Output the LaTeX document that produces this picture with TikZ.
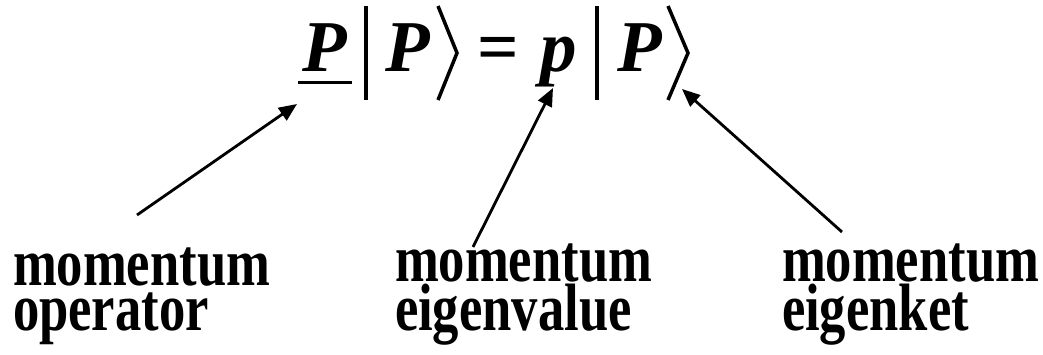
\documentclass[tikz,border=0pt]{standalone}
\usepackage{fontspec}
\setmainfont{Liberation Serif}
\newfontfamily\lblfont{Liberation Serif}[FakeStretch=0.785]
\usetikzlibrary{arrows.meta,positioning}

\begin{document}
\begin{tikzpicture}[x=1pt,y=1pt,
  every node/.style={inner sep=0pt,outer sep=0pt},
  sym/.style={font=\fontsize{73}{80}\selectfont\bfseries\itshape,anchor=base west},
  rel/.style={font=\fontsize{73}{80}\selectfont\bfseries,anchor=base west},
  lbl/.style={font=\lblfont\fontsize{67}{45}\selectfont\bfseries,anchor=base west,align=left},
  delim/.style={line width=3.5pt},
  arr/.style={-{Triangle[length=18pt,width=15pt]},line width=2.8pt}
]
\useasboundingbox (0,0) rectangle (1043,354);
% the eigenvalue equation
\node[sym] (opP) at (302,282) {P};
\draw[line width=3pt] (298,271) -- (352,271);
\draw[delim] (366,348) -- (366,254);
\node[sym] (ketP) at (385,282) {P};
\draw[delim] (438,348) -- (457,301) -- (438,254);
\node[rel] (eq) at (477,282) {=};
\node[sym] (val) at (540,282) {p};
\draw[delim] (597,348) -- (597,254);
\node[sym] (ketQ) at (617,282) {P};
\draw[delim] (668,348) -- (688,301) -- (668,254);
% labels (base = last line)
\node[lbl] (op) at (13,24) {momentum\\operator};
\node[lbl] (ev) at (395,24) {momentum\\eigenvalue};
\node[lbl] (ek) at (782,24) {momentum\\eigenket};
\coordinate (opS) at (137,139);
\coordinate (evS) at (473,107);
\coordinate (ekS) at (842,122);
\coordinate (opT) at (297,250);
\coordinate (evT) at (553,266);
\coordinate (ekT) at (682,265);
\draw[arr] (opS) -- (opT);
\draw[arr] (evS) -- (evT);
\draw[arr] (ekS) -- (ekT);
\end{tikzpicture}
\end{document}
